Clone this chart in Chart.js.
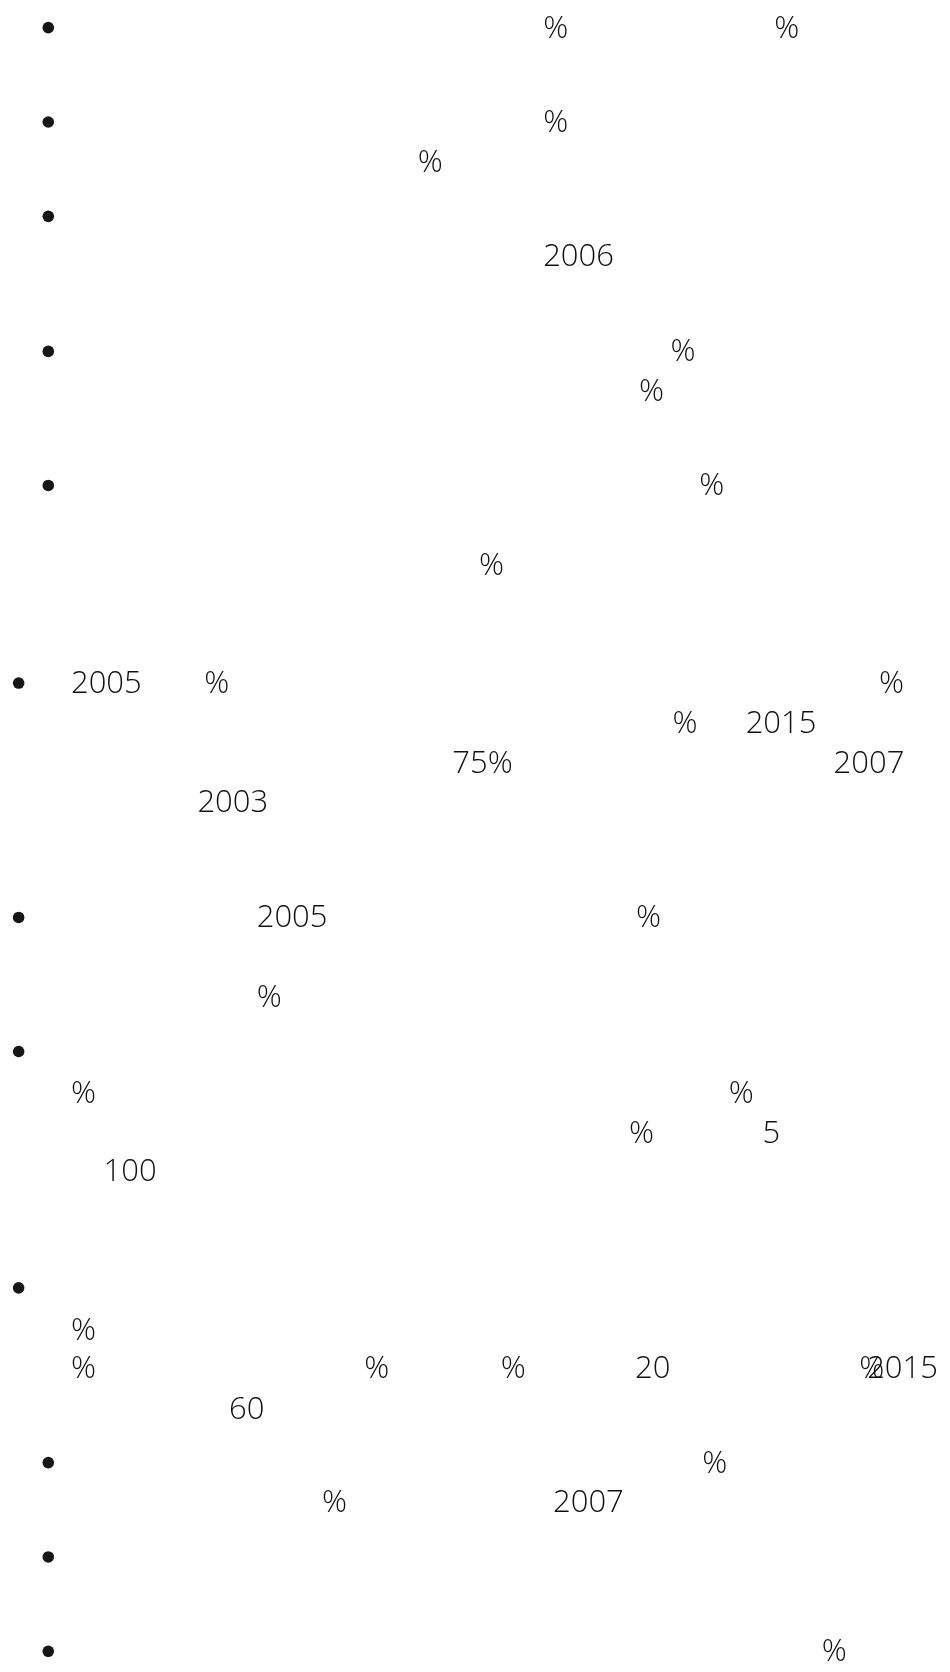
<!DOCTYPE html>
<html>
<head>
<meta charset="utf-8">
<title>Notes</title>
<script src="https://cdn.jsdelivr.net/npm/chart.js@4.4.1/dist/chart.umd.min.js"></script>
<style>
  html, body { margin: 0; padding: 0; background: #fff; }
  #page { display: block; }
</style>
</head>
<body>
<canvas id="page" width="950" height="1672" style="width:950px;height:1672px"></canvas>
<script>
// bullet markers (column, row in page px)
const bulletCols = [43, 43, 43, 43, 43, 13, 13, 13, 13, 43, 43, 43];
const bulletRows = [22, 117, 212, 348, 483, 682, 918, 1053, 1291, 1467, 1562, 1657];

// the visible text fragments and where they sit
const tokenLabels = [
  "%", "%", "%", "%", "2006", "%", "%", "%", "%",
  "2005", "%", "%", "%", "2015", "75%", "2007", "2003",
  "2005", "%", "%",
  "%", "%", "%", "5", "100",
  "%", "%", "%", "%", "20", "%", "2015", "60",
  "%", "%", "2007", "%"
];
const tokenCols = [
  545, 779, 545, 418, 545, 674, 642, 703, 480,
  67, 202, 885, 676, 750, 453, 839, 195,
  255, 639, 255,
  67, 733, 632, 767, 100,
  67, 67, 364, 502, 638, 865, 873, 227,
  706, 321, 555, 827
];
const tokenRows = [
  22, 22, 117, 157, 252, 348, 388, 483, 563,
  682, 682, 682, 722, 722, 762, 762, 802,
  918, 918, 998,
  1095, 1095, 1135, 1135, 1173,
  1333, 1372, 1372, 1372, 1372, 1372, 1372, 1413,
  1467, 1507, 1507, 1657
];

const bulletPoints = bulletCols.map((c, i) => ({ x: c, y: bulletRows[i] }));
const tokenPoints = tokenCols.map((c, i) => ({ x: c, y: tokenRows[i] }));

// draws each label at its point, positioned through the chart scales
const tokenText = {
    id: 'tokenText',
    afterDatasetsDraw(chart) {
        const ctx = chart.ctx;
        const xs = chart.scales.x;
        const ys = chart.scales.y;
        ctx.save();
        ctx.fillStyle = '#111111';
        ctx.font = '300 31px "Open Sans", "Noto Sans", sans-serif';
        ctx.textAlign = 'left';
        ctx.textBaseline = 'alphabetic';
        tokenLabels.forEach((label, i) => {
            const px = xs.getPixelForValue(tokenCols[i]) - 1;
            const py = ys.getPixelForValue(tokenRows[i]) + 10;
            ctx.fillText(label, px, py);
        });
        ctx.restore();
    }
};

new Chart(document.getElementById('page'), {
    type: 'scatter',
    data: {
        datasets: [{
            label: 'bullets',
            data: bulletPoints,
            pointStyle: 'circle',
            pointRadius: 5.8,
            pointHoverRadius: 5.8,
            backgroundColor: '#161616',
            borderWidth: 0
        }, {
            label: 'text',
            data: tokenPoints,
            pointRadius: 0,
            pointHoverRadius: 0
        }]
    },
    options: {
        responsive: false,
        animation: false,
        events: [],
        layout: { padding: 0 },
        plugins: {
            legend: { display: false },
            tooltip: { enabled: false },
            title: { display: false }
        },
        scales: {
            x: { type: 'linear', min: 0, max: 950, display: false },
            y: { type: 'linear', min: 0, max: 1672, reverse: true, display: false }
        }
    },
    plugins: [tokenText]
});
</script>
</body>
</html>
